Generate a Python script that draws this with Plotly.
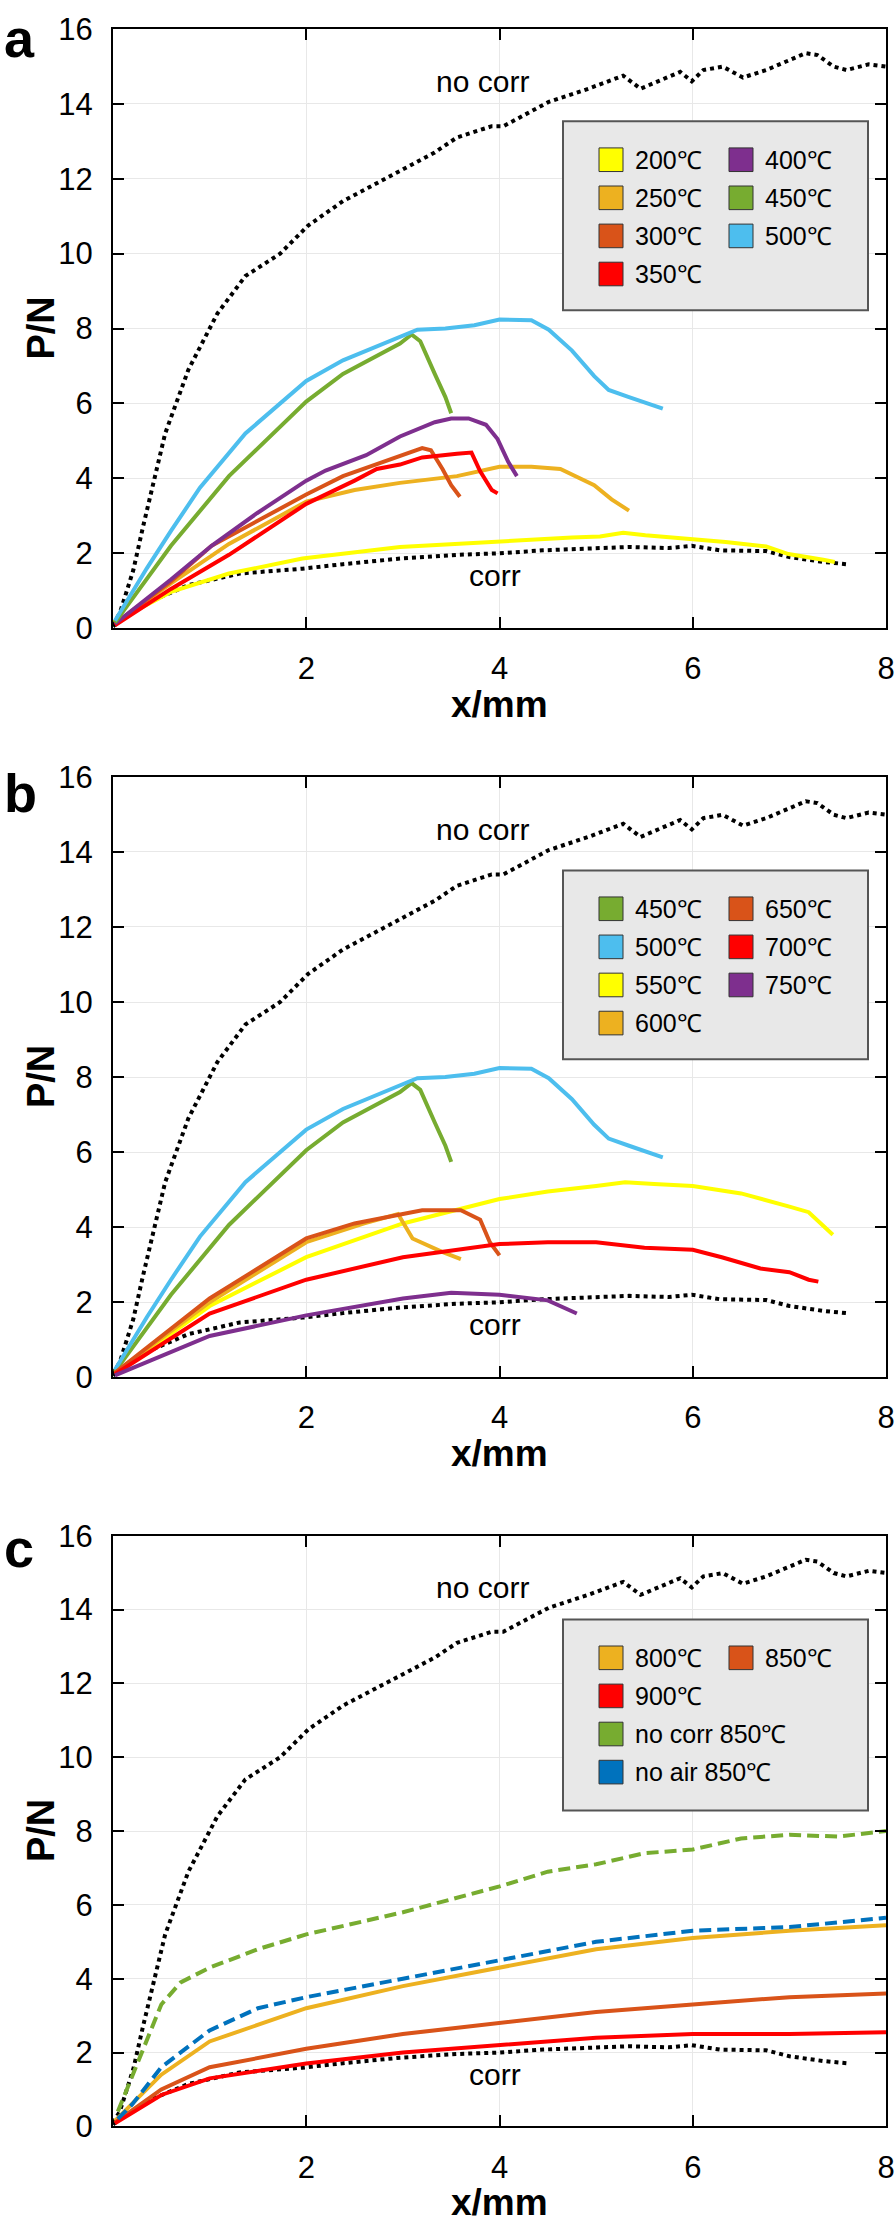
import plotly.graph_objects as go

W, H = 896, 2229
L_PX, R_PX = 113, 886

# ---------------- data ----------------
X_NOCORR = [0.0, 0.07, 0.21, 0.31, 0.54, 0.78, 1.08, 1.37, 1.73, 2.02, 2.38, 2.85, 3.33, 3.56, 3.92, 4.04, 4.15, 4.51, 4.92, 5.28, 5.46, 5.69, 5.87, 5.99, 6.11, 6.31, 6.52, 6.76, 7.0, 7.17, 7.29, 7.46, 7.59, 7.82, 8.0]
Y_NOCORR = [0.1, 0.4, 1.55, 2.7, 5.2, 6.9, 8.4, 9.4, 10.0, 10.75, 11.4, 12.05, 12.7, 13.1, 13.4, 13.4, 13.55, 14.05, 14.4, 14.75, 14.4, 14.65, 14.85, 14.6, 14.9, 14.99, 14.7, 14.9, 15.15, 15.35, 15.3, 14.99, 14.9, 15.05, 14.99]

X_CORR = [0.0, 0.07, 0.37, 0.78, 1.31, 1.96, 2.38, 2.97, 3.56, 4.0, 4.45, 5.04, 5.34, 5.75, 5.99, 6.28, 6.76, 7.0, 7.35, 7.59]
Y_CORR = [0.05, 0.2, 0.7, 1.15, 1.46, 1.59, 1.71, 1.86, 1.96, 2.0, 2.08, 2.14, 2.17, 2.14, 2.2, 2.08, 2.06, 1.9, 1.77, 1.71]

# panel a
X_200 = [0.01, 0.6, 1.2, 1.96, 2.97, 4.0, 4.75, 5.04, 5.28, 5.51, 5.93, 6.34, 6.76, 6.99, 7.35, 7.47]
Y_200 = [0.16, 0.97, 1.46, 1.86, 2.17, 2.33, 2.42, 2.45, 2.55, 2.48, 2.39, 2.3, 2.18, 1.98, 1.83, 1.77]
X_250 = [0.02, 0.6, 1.2, 2.0, 2.5, 2.97, 3.56, 4.0, 4.33, 4.63, 4.98, 5.16, 5.34]
Y_250 = [0.12, 1.2, 2.25, 3.38, 3.69, 3.88, 4.06, 4.31, 4.31, 4.25, 3.82, 3.44, 3.14]
X_300 = [0.02, 0.6, 1.02, 2.0, 2.38, 2.85, 3.2, 3.29, 3.41, 3.5, 3.59]
Y_300 = [0.12, 1.25, 2.2, 3.57, 4.06, 4.5, 4.81, 4.75, 4.25, 3.82, 3.51]
X_350 = [0.02, 0.6, 1.2, 2.0, 2.5, 2.73, 2.97, 3.2, 3.56, 3.71, 3.8, 3.92, 3.98]
Y_350 = [0.08, 1.05, 1.96, 3.32, 3.94, 4.25, 4.37, 4.56, 4.66, 4.69, 4.19, 3.69, 3.6]
X_400 = [0.02, 0.6, 1.02, 1.49, 2.0, 2.2, 2.62, 2.97, 3.33, 3.5, 3.68, 3.86, 3.98, 4.09, 4.18]
Y_400 = [0.12, 1.3, 2.2, 3.07, 3.94, 4.21, 4.62, 5.12, 5.5, 5.6, 5.6, 5.43, 5.05, 4.44, 4.06]
X_450 = [0.02, 0.6, 1.2, 2.0, 2.38, 2.97, 3.09, 3.18, 3.33, 3.44, 3.5]
Y_450 = [0.15, 2.2, 4.06, 6.05, 6.79, 7.6, 7.84, 7.66, 6.79, 6.17, 5.74]
X_500 = [0.02, 0.35, 0.6, 0.9, 1.37, 2.0, 2.38, 2.97, 3.15, 3.44, 3.74, 4.0, 4.33, 4.51, 4.75, 4.98, 5.13, 5.34, 5.57, 5.69]
Y_500 = [0.2, 1.6, 2.6, 3.75, 5.2, 6.6, 7.15, 7.78, 7.97, 8.0, 8.09, 8.24, 8.22, 7.97, 7.41, 6.73, 6.36, 6.17, 5.98, 5.86]

# panel b
X_550 = [0.02, 1.0, 2.0, 3.0, 4.0, 4.5, 5.0, 5.3, 5.6, 6.0, 6.5, 6.8, 7.0, 7.2, 7.45]
Y_550 = [0.1, 1.9, 3.2, 4.1, 4.75, 4.95, 5.1, 5.2, 5.15, 5.1, 4.9, 4.7, 4.55, 4.4, 3.8]
X_600 = [0.02, 1.0, 2.0, 2.6, 2.95, 3.1, 3.4, 3.6]
Y_600 = [0.12, 2.0, 3.6, 4.1, 4.35, 3.7, 3.35, 3.15]
X_650 = [0.02, 1.0, 2.0, 2.5, 3.0, 3.2, 3.6, 3.8, 3.9, 4.0]
Y_650 = [0.12, 2.1, 3.7, 4.1, 4.35, 4.45, 4.45, 4.2, 3.6, 3.25]
X_700 = [0.02, 1.0, 2.0, 3.0, 4.0, 4.5, 5.0, 5.5, 6.0, 6.3, 6.7, 7.0, 7.2, 7.3]
Y_700 = [0.08, 1.7, 2.6, 3.2, 3.55, 3.6, 3.6, 3.45, 3.4, 3.2, 2.9, 2.8, 2.6, 2.55]
X_750 = [0.02, 1.0, 2.0, 3.0, 3.5, 4.0, 4.5, 4.8]
Y_750 = [0.05, 1.1, 1.65, 2.1, 2.25, 2.2, 2.05, 1.7]

# panel c
X_800 = [0.02, 0.5, 1.0, 2.0, 3.0, 4.0, 5.0, 6.0, 7.0, 8.0]
Y_800 = [0.15, 1.4, 2.3, 3.2, 3.8, 4.3, 4.8, 5.1, 5.3, 5.45]
X_850 = [0.02, 0.5, 1.0, 2.0, 3.0, 4.0, 5.0, 6.0, 7.0, 8.0]
Y_850 = [0.1, 1.0, 1.6, 2.1, 2.5, 2.8, 3.1, 3.3, 3.5, 3.6]
X_900 = [0.02, 0.5, 1.0, 2.0, 3.0, 4.0, 5.0, 6.0, 7.0, 8.0]
Y_900 = [0.08, 0.85, 1.3, 1.7, 2.0, 2.2, 2.4, 2.5, 2.5, 2.55]
X_NC850 = [0.05, 0.3, 0.5, 0.7, 1.0, 1.5, 2.0, 3.0, 4.0, 4.5, 5.0, 5.5, 6.0, 6.5, 7.0, 7.5, 8.0]
Y_NC850 = [0.4, 2.0, 3.3, 3.9, 4.3, 4.8, 5.2, 5.8, 6.5, 6.9, 7.1, 7.4, 7.5, 7.8, 7.9, 7.85, 8.0]
X_NA850 = [0.05, 0.2, 0.5, 1.0, 1.5, 2.0, 3.0, 4.0, 5.0, 6.0, 7.0, 8.0]
Y_NA850 = [0.2, 0.6, 1.6, 2.6, 3.2, 3.5, 4.0, 4.5, 5.0, 5.3, 5.4, 5.65]

X_TICKS = [2, 4, 6, 8]
Y_TICKS = [0, 2, 4, 6, 8, 10, 12, 14, 16]
PANEL_LETTERS = ["a", "b", "c"]

C_YELLOW, C_ORANGE, C_RORANGE, C_RED = "#FFFF00", "#EDB120", "#D95319", "#FF0000"
C_PURPLE, C_GREEN, C_LBLUE, C_BLUE = "#7E2F8E", "#77AC30", "#4DBEEE", "#0072BD"

panels = [
    dict(series=[("200℃", X_200, Y_200, C_YELLOW, None), ("250℃", X_250, Y_250, C_ORANGE, None),
                 ("300℃", X_300, Y_300, C_RORANGE, None), ("350℃", X_350, Y_350, C_RED, None),
                 ("400℃", X_400, Y_400, C_PURPLE, None), ("450℃", X_450, Y_450, C_GREEN, None),
                 ("500℃", X_500, Y_500, C_LBLUE, None)],
         legend_cols=[["200℃", "250℃", "300℃", "350℃"], ["400℃", "450℃", "500℃"]],
         top=12, bottom=621, leg_top=106, leg_bottom=298, letter_mid=21),
    dict(series=[("450℃", X_450, Y_450, C_GREEN, None), ("500℃", X_500, Y_500, C_LBLUE, None),
                 ("550℃", X_550, Y_550, C_YELLOW, None), ("600℃", X_600, Y_600, C_ORANGE, None),
                 ("650℃", X_650, Y_650, C_RORANGE, None), ("700℃", X_700, Y_700, C_RED, None),
                 ("750℃", X_750, Y_750, C_PURPLE, None)],
         legend_cols=[["450℃", "500℃", "550℃", "600℃"], ["650℃", "700℃", "750℃"]],
         top=772, bottom=1382, leg_top=867, leg_bottom=1059, letter_mid=788),
    dict(series=[("800℃", X_800, Y_800, C_ORANGE, None), ("850℃", X_850, Y_850, C_RORANGE, None),
                 ("900℃", X_900, Y_900, C_RED, None),
                 ("no corr 850℃", X_NC850, Y_NC850, C_GREEN, "12px,6px"),
                 ("no air 850℃", X_NA850, Y_NA850, C_BLUE, "12px,6px")],
         legend_cols=[["800℃", "900℃", "no corr 850℃", "no air 850℃"], ["850℃"]],
         top=1543, bottom=2143, leg_top=1628, leg_bottom=1822, letter_mid=1555),
]

fig = go.Figure()

def py(p):
    return 1 - p / H

def pxx(p):
    return (p - L_PX) / (R_PX - L_PX)

FONT = "Liberation Sans, Arial, sans-serif"
layout = dict(width=W, height=H, margin=dict(l=L_PX, r=W - R_PX, t=0, b=0),
              plot_bgcolor="white", paper_bgcolor="white", showlegend=False,
              font=dict(family=FONT, color="black"))
shapes, annotations = [], []

for i, pn in enumerate(panels):
    k = "" if i == 0 else str(i + 1)
    xa, ya = "x" + k, "y" + k
    fig.add_trace(go.Scatter(x=X_NOCORR, y=Y_NOCORR, mode="lines", xaxis=xa, yaxis=ya,
                             line=dict(color="black", width=4, dash="dot")))
    fig.add_trace(go.Scatter(x=X_CORR, y=Y_CORR, mode="lines", xaxis=xa, yaxis=ya,
                             line=dict(color="black", width=4, dash="dot")))
    for name, xs, ys, col, dash in pn["series"]:
        fig.add_trace(go.Scatter(x=xs, y=ys, mode="lines", name=name, xaxis=xa, yaxis=ya,
                                 line=dict(color=col, width=4, dash=dash or "solid")))
    dom = [py(pn["bottom"]), py(pn["top"])]
    axcommon = dict(showline=True, linecolor="black", linewidth=2, mirror="ticks",
                    ticks="inside", ticklen=11, tickwidth=2, tickcolor="black",
                    showgrid=True, gridcolor="#E8E8E8", gridwidth=1, zeroline=False,
                    tickfont=dict(size=31, family=FONT, color="black"), ticklabelstandoff=12,
                    ticklabeloverflow="allow")
    layout["xaxis" + k] = dict(axcommon, range=[0, 8], tickvals=X_TICKS, anchor=ya, domain=[0, 1])
    layout["yaxis" + k] = dict(axcommon, range=[0, 16], tickvals=Y_TICKS, anchor=xa, domain=dom)
    # axis titles
    annotations.append(dict(x=0.5, y=py(pn["bottom"] + 77), xref="paper", yref="paper",
                            xanchor="center", yanchor="middle", text="<b>x/mm</b>",
                            showarrow=False, font=dict(size=37)))
    annotations.append(dict(x=pxx(41), y=py((pn["top"] + pn["bottom"]) / 2), xref="paper",
                            yref="paper", xanchor="center", yanchor="middle", textangle=-90,
                            text="<b>P/N</b>", showarrow=False, font=dict(size=38)))
    # curve labels
    annotations.append(dict(x=3.82, y=14.6, xref=xa, yref=ya, text="no corr", showarrow=False,
                            font=dict(size=30)))
    annotations.append(dict(x=3.95, y=1.4, xref=xa, yref=ya, text="corr", showarrow=False,
                            font=dict(size=30)))
    # panel letter
    annotations.append(dict(x=pxx(2), y=py(pn["letter_mid"]), xref="paper", yref="paper",
                            xanchor="left", yanchor="middle", text="<b>%s</b>" % PANEL_LETTERS[i],
                            showarrow=False, font=dict(size=54)))
    # legend box
    shapes.append(dict(type="rect", xref="paper", yref="paper", x0=pxx(563), x1=pxx(868),
                       y0=py(pn["leg_bottom"]), y1=py(pn["leg_top"]),
                       fillcolor="#E8E8E8", line=dict(color="#555555", width=2), layer="above"))
    colors = {s[0]: s[3] for s in pn["series"]}
    for c, col_names in enumerate(pn["legend_cols"]):
        sx = 599 if c == 0 else 729
        for r, nm in enumerate(col_names):
            cy = pn["leg_top"] + 39 + r * 38.7
            shapes.append(dict(type="rect", xref="paper", yref="paper",
                               x0=pxx(sx), x1=pxx(sx + 24), y0=py(cy + 12), y1=py(cy - 12),
                               fillcolor=colors[nm], line=dict(color="#333333", width=1),
                               layer="above"))
            annotations.append(dict(x=pxx(sx + 34), y=py(cy), xref="paper", yref="paper",
                                    xanchor="left", yanchor="middle", text=nm, showarrow=False,
                                    font=dict(size=25)))

layout["shapes"] = shapes
layout["annotations"] = annotations
fig.update_layout(**layout)
fig.write_html("out.html", config={"displayModeBar": False},
               post_script="document.body.style.margin='0px';document.body.style.padding='0px';"
                           "document.documentElement.style.overflow='hidden';"
                           "document.body.style.overflow='hidden';")
